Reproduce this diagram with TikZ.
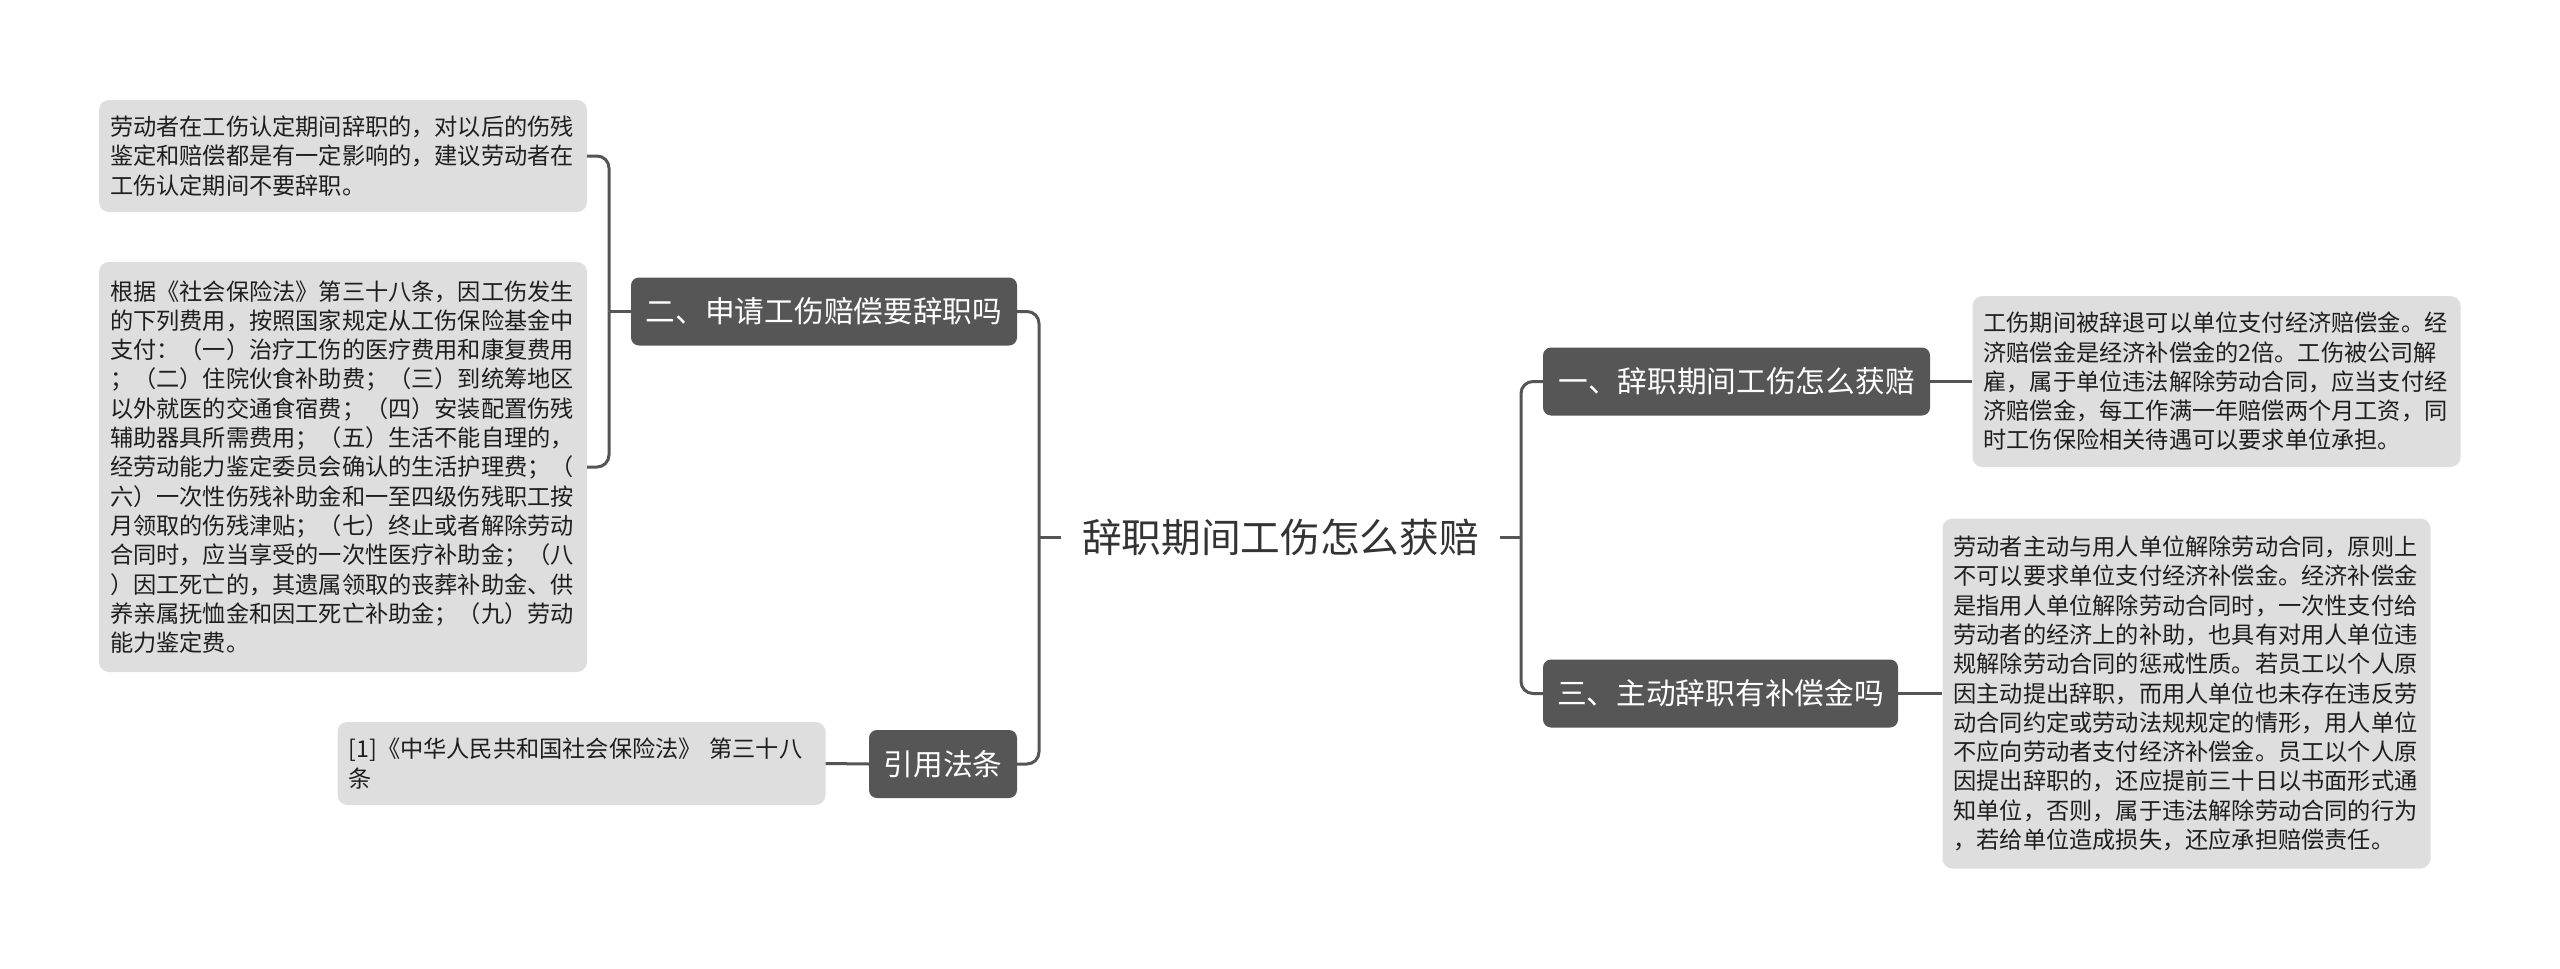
\documentclass[tikz,border=0pt]{standalone}
\usepackage{fontspec}
\setmainfont{Noto Sans CJK SC}
\definecolor{nodec}{HTML}{565656}
\definecolor{leafc}{HTML}{DEDEDE}
\definecolor{linec}{HTML}{555555}
\definecolor{textc}{HTML}{1E1E1E}
\definecolor{rootc}{HTML}{333333}
\tikzset{
  conn/.style={draw=linec, line width=3pt},
  branch/.style={fill=nodec, rounded corners=8pt, text=white, font=\fontsize{29.7}{36}\selectfont, inner sep=0pt, minimum height=68pt},
  leaf/.style={fill=leafc, rounded corners=10pt, text=textc, font=\fontsize{23.2}{29.3}\selectfont, inner xsep=11pt, inner ysep=0pt, text width=466pt, align=left},
  rootn/.style={text=rootc, font=\fontsize{39.7}{46}\selectfont, inner xsep=21pt, inner ysep=0pt}
}
\begin{document}
\begin{tikzpicture}[x=1pt, y=-1pt]
\useasboundingbox (0,0) rectangle (2560,969);
\fill[white] (0,0) rectangle (2560,969);

% root
\node[rootn] (root) at (1280.5,537) {辞职期间工伤怎么获赔};
\coordinate (Ls) at (1039,537);
\coordinate (Rs) at (1521,537);

% left branches
\node[branch, minimum width=386pt] (n2) at (824,311.5) {二、申请工伤赔偿要辞职吗};
\node[branch, minimum width=148pt] (ref) at (943,764) {引用法条};

% right branches
\node[branch, minimum width=387pt] (n1) at (1736.5,381.5) {一、辞职期间工伤怎么获赔};
\node[branch, minimum width=355pt] (n3) at (1720.5,693.5) {三、主动辞职有补偿金吗};

% leaves left
\node[leaf, minimum height=112pt] (l1) at (343,156) {劳动者在工伤认定期间辞职的，对以后的伤残\\鉴定和赔偿都是有一定影响的，建议劳动者在\\工伤认定期间不要辞职。};
\node[leaf, minimum height=410pt] (l2) at (343,467) {根据《社会保险法》第三十八条，因工伤发生\\的下列费用，按照国家规定从工伤保险基金中\\支付：（一）治疗工伤的医疗费用和康复费用\\；（二）住院伙食补助费；（三）到统筹地区\\以外就医的交通食宿费；（四）安装配置伤残\\辅助器具所需费用；（五）生活不能自理的，\\经劳动能力鉴定委员会确认的生活护理费；（\\六）一次性伤残补助金和一至四级伤残职工按\\月领取的伤残津贴；（七）终止或者解除劳动\\合同时，应当享受的一次性医疗补助金；（八\\）因工死亡的，其遗属领取的丧葬补助金、供\\养亲属抚恤金和因工死亡补助金；（九）劳动\\能力鉴定费。};
\node[leaf, minimum height=83pt] (refl) at (581.5,763.5) {[1]《中华人民共和国社会保险法》~第三十八\\条};

% leaves right
\node[leaf, minimum height=171pt] (r1) at (2216.5,381.5) {工伤期间被辞退可以单位支付经济赔偿金。经\\济赔偿金是经济补偿金的2倍。工伤被公司解\\雇，属于单位违法解除劳动合同，应当支付经\\济赔偿金，每工作满一年赔偿两个月工资，同\\时工伤保险相关待遇可以要求单位承担。};
\node[leaf, minimum height=350pt] (r2) at (2186.5,693.5) {劳动者主动与用人单位解除劳动合同，原则上\\不可以要求单位支付经济补偿金。经济补偿金\\是指用人单位解除劳动合同时，一次性支付给\\劳动者的经济上的补助，也具有对用人单位违\\规解除劳动合同的惩戒性质。若员工以个人原\\因主动提出辞职，而用人单位也未存在违反劳\\动合同约定或劳动法规规定的情形，用人单位\\不应向劳动者支付经济补偿金。员工以个人原\\因提出辞职的，还应提前三十日以书面形式通\\知单位，否则，属于违法解除劳动合同的行为\\，若给单位造成损失，还应承担赔偿责任。};

% connectors
\draw[conn] (root.west) -- (Ls);
\draw[conn, rounded corners=12pt] (n2.east) -| (Ls);
\draw[conn, rounded corners=12pt] (ref.east) -| (Ls);
\draw[conn] (root.east) -- (Rs);
\draw[conn, rounded corners=12pt] (n1.west) -| (Rs);
\draw[conn, rounded corners=12pt] (n3.west) -| (Rs);

\coordinate (Lsub) at (609,311.5);
\draw[conn] (n2.west) -- (Lsub);
\draw[conn, rounded corners=12pt] (l1.east) -| (Lsub);
\draw[conn, rounded corners=12pt] (l2.east) -| (Lsub);
\draw[conn] (ref.west) -- (refl.east);
\draw[conn] (n1.east) -- (r1.west);
\draw[conn] (n3.east) -- (r2.west);
\end{tikzpicture}
\end{document}
